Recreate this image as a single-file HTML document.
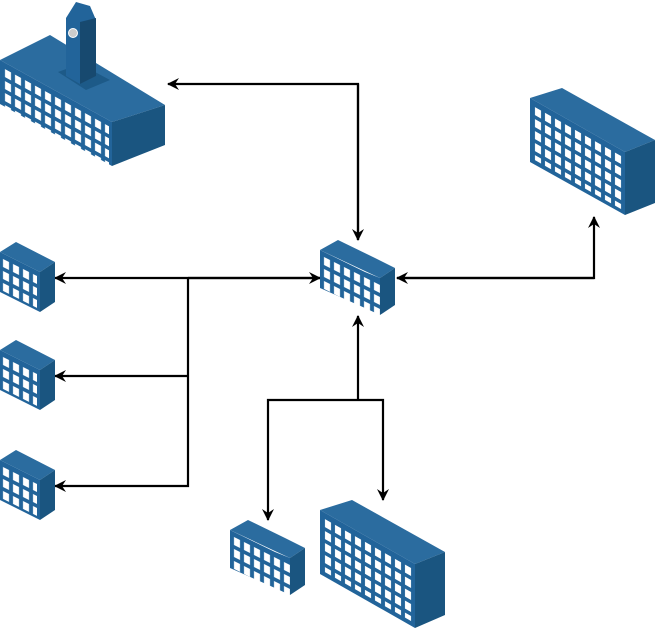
<!DOCTYPE html>
<html><head><style>html,body{margin:0;padding:0;background:#fff}svg{display:block}</style></head>
<body>
<svg width="657" height="631" viewBox="0 0 657 631" xmlns="http://www.w3.org/2000/svg">
<defs>
<pattern id="w" width="10" height="12" patternUnits="userSpaceOnUse"><rect x="2" y="2" width="6" height="8" fill="#fff"/></pattern>
<marker id="a" markerWidth="12" markerHeight="12" refX="11" refY="6" orient="auto" markerUnits="userSpaceOnUse"><path d="M0,0 L12,6 L0,12 L4,6 Z" fill="#000"/></marker>
</defs>
<g stroke="#000" stroke-width="2.2" fill="none">
<path d="M358,240 V84 H168" marker-end="url(#a)"/>
<path d="M358,84 V240" marker-end="url(#a)"/>
<path d="M188,278 H320" marker-end="url(#a)"/>
<path d="M320,278 H55" marker-end="url(#a)"/>
<path d="M188,278 V486 H55" marker-end="url(#a)"/>
<path d="M188,376 H55" marker-end="url(#a)"/>
<path d="M594,278 H397" marker-end="url(#a)"/>
<path d="M397,278 H594 V217" marker-end="url(#a)"/>
<path d="M358,400 V316" marker-end="url(#a)"/>
<path d="M358,400 H268 V520" marker-end="url(#a)"/>
<path d="M358,400 H383 V500" marker-end="url(#a)"/>
</g>

<g>
<polygon points="530,98 562,88 655,140 625,152" fill="#2b6c9f"/>
<polygon points="530,98 625,152 625,215 530,162" fill="#22649a"/>
<polygon points="625,152 655,140 655,203 625,215" fill="#1a5580"/>
<g transform="matrix(1,0.568,0,1,533,104)"><rect width="90" height="55" fill="url(#w)"/></g>
</g>
<g>
<polygon points="320,510 352,500 445,552 415,564" fill="#2b6c9f"/>
<polygon points="320,510 415,564 415,628 320,574" fill="#22649a"/>
<polygon points="415,564 445,552 445,615 415,628" fill="#1a5580"/>
<g transform="matrix(1,0.568,0,1,323,516)"><rect width="90" height="55" fill="url(#w)"/></g>
</g>

<g id="s1">
<polygon points="0,252 16,242 55,262 40,272" fill="#2b6c9f"/>
<polygon points="0,252 40,272 40,312 0,292" fill="#22649a"/>
<polygon points="40,272 55,262 55,302 40,312" fill="#1a5580"/>
<g transform="matrix(1,0.5,0,1,1,256)"><rect width="36" height="34" fill="url(#w)"/></g>
</g>
<use href="#s1" transform="translate(0,98)"/>
<use href="#s1" transform="translate(0,208)"/>

<g id="m1">
<polygon points="320,250 338,240 375,258 395,268 380,278" fill="#2b6c9f"/>
<polygon points="320,250 365,272 365,308 320,288" fill="#22649a"/>
<polygon points="365,272 380,278 380,315 365,308" fill="#22649a"/>
<polygon points="380,278 395,268 395,305 380,315" fill="#1a5580"/>
<g transform="matrix(1,0.5,0,1,322,254)"><rect width="58" height="34" fill="url(#w)"/></g>
</g>
<use href="#m1" transform="translate(-90,280)"/>

<polygon points="0,60 50,35 165,105 112,122" fill="#2b6c9f"/>
<polygon points="0,60 112,122 112,166 0,104" fill="#22649a"/>
<polygon points="112,122 165,105 165,145 112,166" fill="#1a5580"/>
<g transform="matrix(1,0.55,0,1,3,66)"><rect width="106" height="44" fill="url(#w)"/></g>
<polygon points="58,72 80,64 110,80 86,90" fill="#1d5a88"/>
<polygon points="66,18 76,2 90,6 96,20 96,76 80,84 66,76" fill="#22649a"/>
<polygon points="80,22 96,18 96,76 80,84" fill="#17496f"/>
<circle cx="73" cy="33" r="4.5" fill="#ccc" stroke="#fff"/>
</svg>
</body></html>
